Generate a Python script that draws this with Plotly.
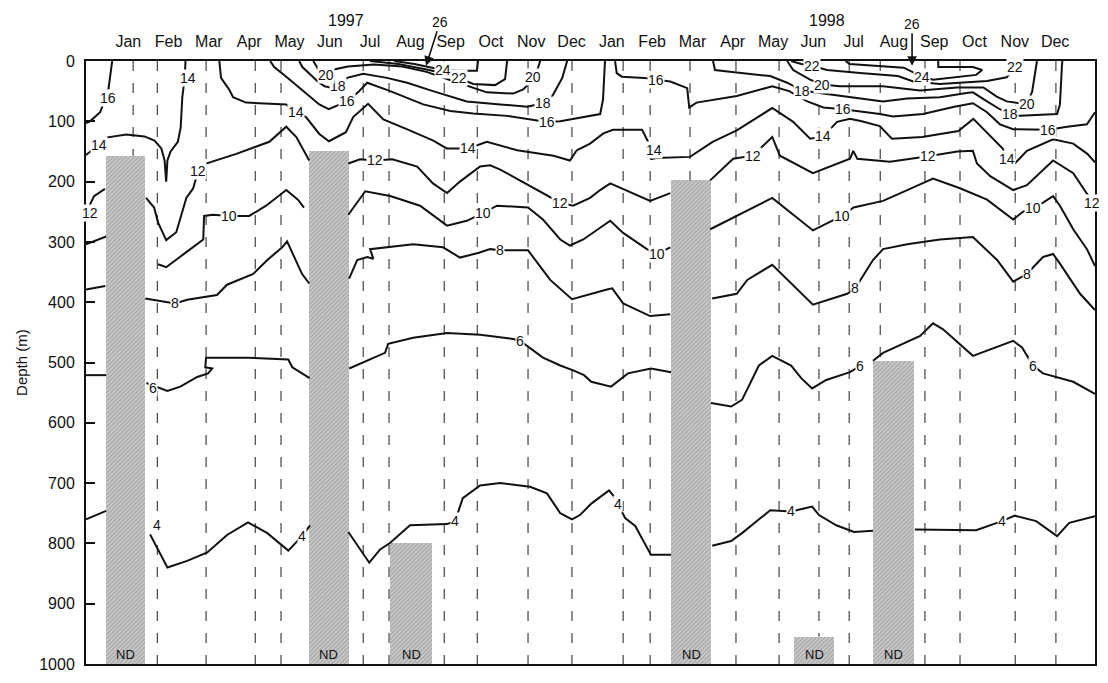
import plotly.graph_objects as go

# ---------------- data (x = months since 1 Jan 1997, y = depth in m) ----------------
month_names = ["Jan", "Feb", "Mar", "Apr", "May", "Jun", "Jul", "Aug", "Sep", "Oct", "Nov", "Dec"] * 2
years = ["1997", "1998"]
year_month = [5.9, 17.85]

depth_ticks = [0, 100, 200, 300, 400, 500, 600, 700, 800, 900, 1000]

# sampling (cast) times
cast_month = [0.62, 1.22, 2.43, 3.65, 4.29, 6.33, 6.97, 8.34, 9.16, 10.42, 11.51, 12.78,
              13.45, 14.44, 15.58, 16.65, 17.64, 18.39, 19.16, 20.27, 21.14, 22.51, 23.52]

# no-data blocks
nd_center = [0.43, 5.48, 7.52, 14.47, 17.52, 19.49]
nd_width = [0.97, 0.99, 1.04, 0.99, 0.99, 1.02]
nd_top = [157, 150, 800, 198, 955, 497]

# isotherms (None separates segments)
t4_m = [-0.55, -0.05, None,
        1.04, 1.47, 1.96, 2.46, 2.95, 3.47, 3.95, 4.47, 4.81, 5.01, None,
        5.96, 6.48, 6.75, 7.0, 7.49, 8.41, 8.61, 8.73, 8.8, 9.23, 9.73, 10.47, 10.89, 11.22, 11.51,
        11.71, 11.99, 12.43, 12.55, 12.83, 13.08, 13.47, 13.97, None,
        14.99, 15.46, 15.73, 16.43, 16.95, 17.47, 17.64, 18.07, 18.51, 18.98, None,
        20.02, 20.77, 21.54, 22.18, 22.5, 23.03, 23.55, 23.85, 24.49]
t4_d = [760, 746, None,
        785, 840, 829, 815, 786, 765, 783, 812, 788, 770, None,
        781, 832, 810, 799, 770, 768, 763, 739, 725, 704, 700, 706, 717, 750, 760,
        753, 734, 712, 722, 758, 771, 819, 819, None,
        804, 796, 783, 745, 747, 739, 753, 770, 781, 779, None,
        777, 777, 778, 763, 754, 763, 788, 766, 755]

t6_m = [-0.55, -0.05, None,
        0.95, 1.47, 1.79, 2.21, 2.48, 2.58, 2.41, 2.43, 3.45, 4.47, 4.57, 5.0, None,
        5.98, 6.33, 6.87, 6.95, 7.57, 8.41, 9.23, 10.05, 10.22, 10.79, 11.22, 11.54, 11.81, 11.99,
        12.48, 12.9, 13.47, 13.97, None,
        14.96, 15.46, 15.73, 16.15, 16.48, 16.95, 17.2, 17.47, 17.82, 18.41, 18.68, None,
        18.98, 19.23, 20.15, 20.47, 20.72, 21.46, 22.46, 22.68, 22.95, 23.2, 23.95, 24.49]
t6_d = [521, 521, None,
        534, 547, 540, 524, 518, 510, 508, 492, 492, 495, 508, 526, None,
        510, 500, 484, 469, 459, 451, 454, 461, 464, 492, 505, 513, 521, 532,
        540, 518, 510, 516, None,
        567, 573, 562, 505, 489, 505, 526, 543, 529, 516, 505, None,
        497, 484, 456, 435, 445, 489, 464, 475, 505, 518, 532, 552]

t8_m = [-0.55, -0.07, None,
        0.92, 1.4, 1.66, 1.96, 2.7, 2.95, 3.6, 3.95, 4.32, 4.44, 4.59, 4.81, 4.99, None,
        5.98, 6.18, 6.43, 6.58, 6.5, 6.92, 7.57, 8.31, 8.73, 9.2, 9.48, 9.73, 10.42, 10.97, 11.51,
        12.38, 12.51, 12.78, 13.45, 13.95, None,
        14.99, 15.6, 15.86, 16.48, 17.49, 18.34, 18.54, 18.98, 19.23, 19.83, 20.64, 21.46, 22.06,
        22.46, 22.8, 23.2, 23.45, 23.62, 24.12, 24.49]
t8_d = [379, 373, None,
        394, 400, 402, 396, 388, 371, 353, 330, 309, 299, 320, 353, 369, None,
        361, 330, 325, 328, 312, 309, 304, 309, 326, 318, 312, 314, 314, 363, 395,
        379, 377, 402, 423, 420, None,
        394, 386, 363, 338, 404, 386, 377, 330, 312, 304, 296, 292, 330,
        366, 353, 325, 320, 336, 386, 413]

t10_m = [-0.55, -0.05, None,
         1.24, 1.44, 1.94, 2.36, 2.38, 2.6, 3.0, 3.5, 3.92, 4.42, 4.71, 4.86, None,
         5.96, 6.3, 6.38, 7.0, 7.74, 8.41, 8.9, 9.31, 9.65, 10.42, 10.79, 11.22, 11.46, 11.79, 11.96,
         12.46, 12.78, 13.37, 13.62, 13.95, None,
         14.94, 15.6, 16.48, 17.49, 17.99, 18.21, 18.5, 19.23, 19.83, 20.47, 21.14, 21.81, 22.46,
         22.7, 22.95, 23.2, 23.45, 23.62, 23.95, 24.29, 24.49]
t10_d = [304, 291, None,
         337, 342, 317, 296, 257, 255, 257, 257, 240, 214, 230, 243, None,
         255, 224, 216, 224, 240, 273, 265, 252, 240, 243, 263, 296, 306, 296, 288,
         265, 285, 312, 320, 309, None,
         279, 257, 227, 281, 265, 257, 243, 232, 214, 195, 211, 230, 263,
         250, 243, 235, 224, 240, 279, 312, 340]

t12_m = [-0.5, -0.35, -0.08, None,
         0.94, 1.14, 1.24, 1.44, 1.69, 1.94, 2.11, 2.23, 2.43, 3.18, 4.0, 4.42, 4.67, 4.99, None,
         5.96, 6.25, 6.63, 7.05, 7.67, 8.06, 8.41, 8.73, 9.23, 9.48, 9.73, 10.22, 10.4, 11.22, 11.54,
         11.96, 12.21, 12.46, 13.45, 13.95, None,
         14.94, 15.51, 16.0, 16.48, 16.67, 17.49, 18.41, 18.49, 18.59, 19.4, 20.35, 21.07, 21.46,
         21.56, 21.89, 22.46, 22.8, 23.45, 23.95, 24.24, 24.49]
t12_d = [245, 224, 212, None,
         227, 243, 268, 297, 284, 227, 211, 183, 170, 154, 134, 109, 126, 165, None,
         170, 163, 165, 163, 175, 203, 219, 200, 175, 173, 180, 198, 205, 235, 240,
         227, 214, 203, 232, 219, None,
         198, 162, 157, 126, 157, 186, 162, 149, 162, 167, 158, 150, 149,
         170, 191, 214, 206, 165, 186, 214, 240]

t14_m = [-0.55, -0.22, -0.05, 0.45, 0.9, 1.15, 1.32, 1.4, 1.44, 1.47, 1.55, 1.73, 1.8, 1.84, 1.9, 1.92, None,
         2.76, 2.8, 3.0, 3.1, 3.42, 4.42, 4.67, 4.91, 5.24, 5.48, 5.9, 6.08, 6.45, 6.83, 7.41, 8.07,
         8.4, 8.93, 9.4, 10.15, 11.05, 11.46, 11.63, 11.96, 12.29, 12.53, 13.25, 13.33, 13.4, None,
         13.45, 13.6, 14.44, 15.0, 15.6, 16.48, 17.0, 17.42, 17.74, 18.09, 18.41, 18.7, 19.15, 19.45,
         20.2, 21.1, 21.47, 21.8, 22.2, 22.3, 22.5, 22.8, 23.45, 23.95, 24.3, 24.49]
t14_d = [156, 139, 127, 122, 125, 132, 145, 165, 200, 165, 150, 134, 110, 60, 28, 0, None,
         0, 28, 47, 60, 69, 72, 85, 93, 121, 133, 118, 93, 71, 97, 113, 132,
         145, 145, 134, 148, 157, 165, 148, 137, 120, 114, 114, 124, 134, None,
         163, 161, 159, 134, 115, 78, 101, 129, 125, 101, 96, 100, 108, 129,
         126, 116, 96, 118, 145, 163, 170, 149, 130, 137, 154, 168]

t16_m = [0.1, 0.05, 0.0, -0.2, -0.45, -0.55, None,
         4.02, 4.12, 4.42, 4.74, 5.24, 5.47, 5.74, 5.93, 6.2, 6.43, 7.0, 7.82, 8.49, 9.06, 9.9,
         10.47, 10.89, 11.22, 12.21, 12.28, 12.33, None,
         12.58, 12.62, 12.75, 13.3, 13.6, 13.95, 14.37, 14.42, 14.6, 15.6, 16.48, 16.9, 17.35, 17.75,
         18.24, 18.5, 19.15, 19.48, 20.22, 21.0, 21.46, 21.81, 22.13, 22.46, 23.13, 23.33, 23.8,
         24.29, 24.49]
t16_d = [0, 30, 50, 85, 100, 103, None,
         0, 10, 26, 44, 72, 80, 72, 67, 52, 36, 50, 72, 83, 87, 91,
         97, 101, 100, 88, 64, 0, None,
         0, 20, 26, 28, 31, 34, 45, 77, 69, 58, 42, 50, 67, 77,
         80, 82, 88, 92, 88, 76, 70, 85, 105, 113, 114, 114, 109,
         105, 85]

t18_m = [4.74, 4.82, 5.2, 5.37, 5.6, 5.71, 5.93, 6.33, 6.92, 7.42, 8.06, 8.9, 9.73, 10.4, 10.79,
         11.04, 11.27, 11.39, None,
         15.01, 15.06, 15.43, 16.43, 16.85, 17.22, 17.74, 18.41, 19.23, 19.83, 20.64, 21.3, 21.46,
         21.81, 22.13, 22.38, 22.63, 23.55, 23.62, 23.67, 23.68]
t18_d = [0, 10, 34, 42, 45, 42, 28, 21, 28, 36, 50, 67, 72, 76, 70,
         56, 28, 0, None,
         0, 15, 18, 25, 36, 49, 54, 60, 67, 62, 60, 53, 52,
         67, 80, 88, 91, 88, 72, 7, 0]

t20_m = [5.09, 5.2, 5.41, 5.6, 5.95, 6.6, 7.3, 7.9, 8.5, 9.06, 9.4, 10.05, 10.3, 10.42, 10.55, 10.67,
         10.72, None,
         16.85, 17.0, 17.42, 17.72, 18.16, 19.23, 20.15, 21.07, 21.72, 22.05, 22.3, 22.8, 22.93, 23.0,
         23.05]
t20_d = [0, 12, 23, 14, 9, 6, 9, 18, 32, 45, 52, 54, 47, 39, 26, 11,
         0, None,
         0, 15, 31, 39, 42, 42, 49, 44, 44, 59, 67, 72, 51, 20,
         0]

t22_m = [6.5, 7.2, 7.9, 8.3, 8.7, 9.06, 9.6, 9.85, 9.9, None,
         16.95, 17.2, 17.47, 17.84, 18.66, 19.6, 19.98, 20.64, 21.81, 22.3, 22.5, 22.63]
t22_d = [0, 5, 14, 20, 28, 38, 40, 30, 0, None,
         0, 5, 8, 15, 20, 25, 34, 38, 33, 27, 10, 0]

t24_m = [7.1, 7.6, 8.1, 8.3, 8.7, 9.15, 9.18, None,
         18.3, 18.4, 19.74, 20.09, 20.2, 20.47, 21.54, 21.69, 21.46, 20.6, 20.6]
t24_d = [0, 5, 12, 15, 16, 16, 0, None,
         0, 5, 11, 23, 26, 31, 23, 15, 10, 10, 0]

# contour labels
label_month = [0.0, -0.22, 1.97, 4.67, 8.93, 13.55, 17.74, 22.3,
               -0.45, 2.23, 6.63, 11.22, 16.0, 20.35, 24.42,
               3.0, 9.31, 13.62, 18.21, 22.95,
               1.66, 9.73, 18.54, 22.8,
               1.12, 10.22, 18.66, 22.95,
               1.2, 4.81, 8.61, 12.66, 16.95, 22.18,
               5.93, 10.89, 13.6, 18.24, 23.33,
               5.71, 10.79, 17.22, 22.38,
               5.41, 10.55, 17.72, 22.8,
               8.7, 17.47, 22.5,
               8.3, 20.2]
label_depth = [62, 139, 28, 85, 145, 148, 125, 163,
               252, 183, 165, 235, 157, 158, 235,
               257, 252, 320, 257, 243,
               402, 314, 377, 353,
               542, 464, 505, 505,
               770, 788, 763, 734, 747, 763,
               67, 101, 31, 80, 114,
               42, 70, 49, 88,
               23, 26, 39, 72,
               28, 8, 10,
               15, 26]
label_text = ["16", "14", "14", "14", "14", "14", "14", "14",
              "12", "12", "12", "12", "12", "12", "12",
              "10", "10", "10", "10", "10",
              "8", "8", "8", "8",
              "6", "6", "6", "6",
              "4", "4", "4", "4", "4", "4",
              "16", "16", "16", "16", "16",
              "18", "18", "18", "18",
              "20", "20", "20", "20",
              "22", "22", "22",
              "24", "24"]

# 26 degC maxima (arrow tips)
max26_month = [7.89, 19.95]
max26_depth = [8, 8]

# ---------------- figure ----------------
FONT = "Liberation Sans, Arial, Helvetica, sans-serif"
fig = go.Figure()

# sampling lines (hidden where a no-data block lies on top)
xs, ys = [], []
for m in cast_month:
    bottom = 1000
    for c, w, t in zip(nd_center, nd_width, nd_top):
        if c - w / 2 <= m <= c + w / 2:
            bottom = min(bottom, t)
    xs += [m, m, None]
    ys += [0, bottom, None]
fig.add_trace(go.Scatter(x=xs, y=ys, mode="lines",
                         line=dict(color="#333333", width=1.1, dash="10px,12px"),
                         hoverinfo="skip", showlegend=False))

# ND blocks
fig.add_trace(go.Bar(x=nd_center, width=nd_width, base=nd_top,
                     y=[1000 - t for t in nd_top],
                     marker=dict(color="#c4c4c4", line=dict(width=0),
                                 pattern=dict(shape="/", fgcolor="#7a7a7a", bgcolor="#cbcbcb",
                                              size=3, solidity=0.4)),
                     hoverinfo="skip", showlegend=False))

for mm, dd in [(t4_m, t4_d), (t6_m, t6_d), (t8_m, t8_d), (t10_m, t10_d), (t12_m, t12_d),
               (t14_m, t14_d), (t16_m, t16_d), (t18_m, t18_d), (t20_m, t20_d),
               (t22_m, t22_d), (t24_m, t24_d)]:
    fig.add_trace(go.Scatter(x=mm, y=dd, mode="lines", connectgaps=False,
                             line=dict(color="#111111", width=2),
                             hoverinfo="skip", showlegend=False))

ann = []
for m, d, t in zip(label_month, label_depth, label_text):
    ann.append(dict(x=m, y=d, xref="x", yref="y", text=t, showarrow=False,
                    font=dict(family=FONT, size=14, color="#111"),
                    bgcolor="white", borderpad=0))
for c in nd_center:
    ann.append(dict(x=c, y=985, xref="x", yref="y", text="ND", showarrow=False,
                    font=dict(family=FONT, size=13, color="#111")))
for m, d, ax, ay in zip(max26_month, max26_depth, [14, 0], [-44, -42]):
    ann.append(dict(x=m, y=d, xref="x", yref="y", text="26", showarrow=True,
                    arrowhead=2, arrowsize=1.2, arrowwidth=1.6, arrowcolor="#111",
                    ax=ax, ay=ay, standoff=0, startstandoff=0,
                    font=dict(family=FONT, size=14, color="#111")))
for m, y in zip(year_month, years):
    ann.append(dict(x=m, y=1.067, xref="x", yref="paper", text=y, showarrow=False,
                    xanchor="center", yanchor="middle",
                    font=dict(family=FONT, size=16, color="#111")))
ann.append(dict(x=-0.064, y=0.5, xref="paper", yref="paper", text="Depth (m)",
                xanchor="center", yanchor="middle",
                textangle=-90, showarrow=False, font=dict(family=FONT, size=15, color="#111")))

fig.update_layout(
    width=1108, height=683,
    margin=dict(l=86, r=13, t=61, b=10),
    paper_bgcolor="white", plot_bgcolor="white",
    barmode="overlay", bargap=0,
    annotations=ann,
    xaxis=dict(range=[-0.55, 24.49], side="top", tickmode="array",
               tickvals=[i + 0.5 for i in range(24)], ticktext=month_names,
               ticks="", ticklabelstandoff=6, showgrid=False, zeroline=False,
               showline=True, mirror=True,
               linecolor="#111", linewidth=2, tickfont=dict(family=FONT, size=16, color="#111")),
    yaxis=dict(range=[1000, 0], tickmode="array", tickvals=depth_ticks,
               ticks="inside", ticklen=9, tickwidth=1.5, tickcolor="#111", ticklabelstandoff=6,
               showgrid=False, zeroline=False, showline=True, mirror=True,
               linecolor="#111", linewidth=2, tickfont=dict(family=FONT, size=16, color="#111")),
)

fig.write_html("out.html", config={"displayModeBar": False},
               post_script="document.body.style.margin='0';")
